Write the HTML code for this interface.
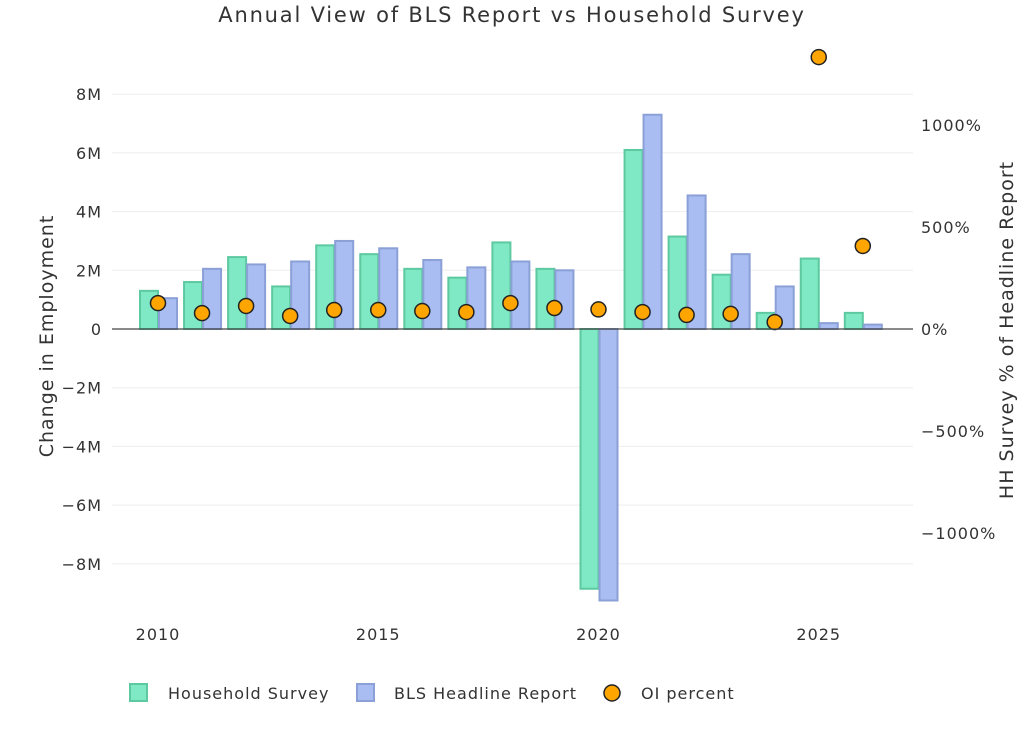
<!DOCTYPE html>
<html><head><meta charset="utf-8"><style>
body{margin:0;background:#fff;}
svg{display:block;font-family:"DejaVu Sans","Liberation Sans",sans-serif;letter-spacing:1px;}
</style></head><body>
<svg id="c" width="1024" height="732" xmlns="http://www.w3.org/2000/svg">
<text x="512" y="22" text-anchor="middle" font-size="21" fill="#333" style="letter-spacing:1.8px">Annual View of BLS Report vs Household Survey</text>
<g id="grid"></g><g id="bars"></g><g id="dots"></g><g id="axes"></g>
<text transform="translate(53,336) rotate(-90)" text-anchor="middle" font-size="19" fill="#333">Change in Employment</text>
<text transform="translate(1013,330) rotate(-90)" text-anchor="middle" font-size="19" fill="#333">HH Survey % of Headline Report</text>
<g>
<g><rect x="130" y="684" width="17" height="17" fill="#7fe8c4" stroke="#5dc9a0" stroke-width="2"/><text x="168" y="699" font-size="16" fill="#333">Household Survey</text></g>
<g><rect x="357" y="684" width="17" height="17" fill="#a9bdf2" stroke="#8aa0d6" stroke-width="2"/><text x="394" y="699" font-size="16" fill="#333">BLS Headline Report</text></g>
<g><circle cx="612" cy="693" r="8" fill="#ffa500" stroke="#222" stroke-width="1.5"/><text x="641" y="699" font-size="16" fill="#333">OI percent</text></g>
</g>
</svg>
<script>
const years=[2010,2011,2012,2013,2014,2015,2016,2017,2018,2019,2020,2021,2022,2023,2024,2025,2026];
const household=[1.3,1.6,2.45,1.45,2.85,2.55,2.05,1.75,2.95,2.05,-8.85,6.1,3.15,1.85,0.55,2.4,0.55];
const bls=[1.05,2.05,2.2,2.3,3.0,2.75,2.35,2.1,2.3,2.0,-9.25,7.3,4.55,2.55,1.45,0.2,0.15];
const oiPercent=[127,78,113,64,93,93,88,83,127,103,96,83,69,74,34,1333,407];
const yTicks=[-8,-6,-4,-2,0,2,4,6,8];
const yTickLabels=["−8M","−6M","−4M","−2M","0","2M","4M","6M","8M"];
const y2Ticks=[-1000,-500,0,500,1000];
const y2TickLabels=["−1000%","−500%","0%","500%","1000%"];
const xTicks=[2010,2015,2020,2025];
const NS="http://www.w3.org/2000/svg";
const X=v=>158+(v-2010)*44.05;
const Y=v=>329-v*29.35;
const Y2=v=>329-v*0.204;
function mk(p,tag,a){const e=document.createElementNS(NS,tag);for(const k in a)e.setAttribute(k,a[k]);document.getElementById(p).appendChild(e);return e;}
yTicks.forEach((t,i)=>{
 if(t!==0){const l=mk('grid','line',{x1:112,x2:913,y1:Y(t),y2:Y(t),stroke:'#eee','stroke-width':1});
 
 }
 const tx=mk('axes','text',{x:102,y:Y(t)+6,'text-anchor':'end','font-size':16,fill:'#333'});tx.textContent=yTickLabels[i];
 
 
});
y2Ticks.forEach((t,i)=>{
 const tx=mk('axes','text',{x:921,y:Y2(t)+6,'font-size':16,fill:'#333'});tx.textContent=y2TickLabels[i];
 
 
});
xTicks.forEach(t=>{
 const tx=mk('axes','text',{x:X(t),y:640,'text-anchor':'middle','font-size':16,fill:'#333'});tx.textContent=t;
 
 
});
const z=mk('axes','line',{x1:112,x2:913,y1:Y(0),y2:Y(0),stroke:'#444','stroke-width':1.2});


const bw=19;
years.forEach((yr,i)=>{
 const h=household[i],b=bls[i];
 const r1=mk('bars','rect',{x:X(yr)-bw+1,y:Math.min(Y(0),Y(h)),width:bw-1,height:Math.abs(Y(h)-Y(0)),fill:'#7fe8c4',stroke:'#5dc9a0','stroke-width':2});
 
 
 const r2=mk('bars','rect',{x:X(yr)+1,y:Math.min(Y(0),Y(b)),width:bw-1,height:Math.abs(Y(b)-Y(0)),fill:'#a9bdf2',stroke:'#8aa0d6','stroke-width':2});
 
 
 const c=mk('dots','circle',{cx:X(yr),cy:Y2(oiPercent[i]),r:7.5,fill:'#ffa500',stroke:'#222','stroke-width':1.5});
 
 
});
</script>
</body></html>
